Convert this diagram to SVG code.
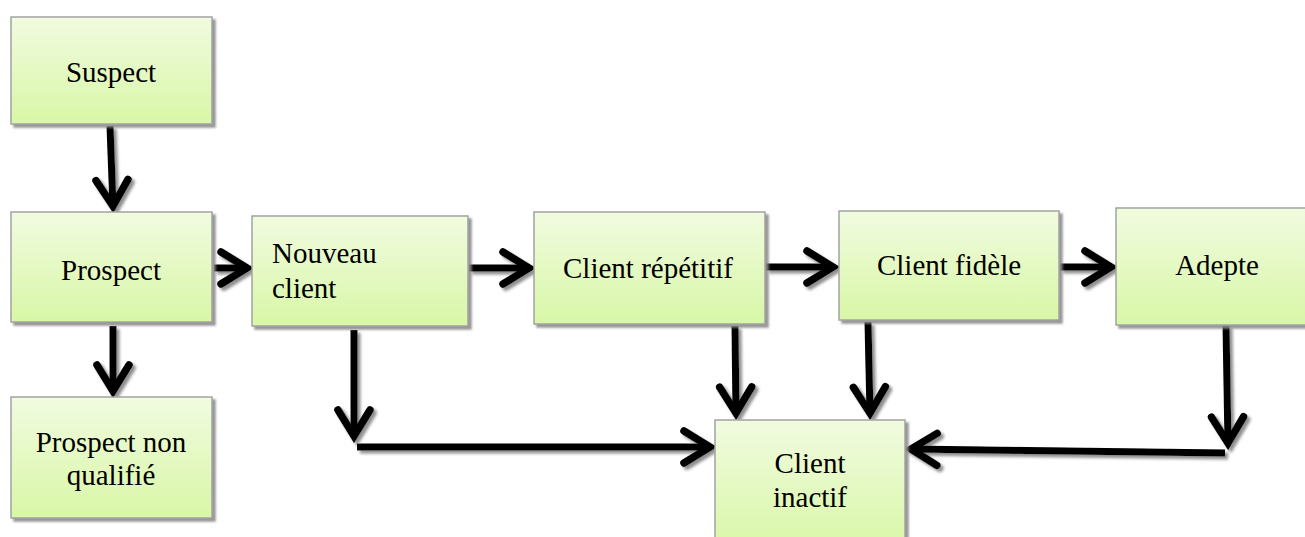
<svg xmlns="http://www.w3.org/2000/svg" width="1305" height="537" viewBox="0 0 1305 537">
  <defs>
    <linearGradient id="boxFill" x1="0" y1="0" x2="0" y2="1">
      <stop offset="0" stop-color="#f1fbe0"/>
      <stop offset="1" stop-color="#d8f7a6"/>
    </linearGradient>
    <filter id="boxShadow" x="-5%" y="-5%" width="115%" height="115%">
      <feDropShadow dx="3" dy="3" stdDeviation="0.8" flood-color="#8a8a8a" flood-opacity="0.9"/>
    </filter>
    <filter id="lineShadow" x="-10%" y="-10%" width="130%" height="130%">
      <feDropShadow dx="3" dy="3" stdDeviation="1.5" flood-color="#7a7a7a" flood-opacity="0.85"/>
    </filter>
    <marker id="chev" markerUnits="userSpaceOnUse" viewBox="-34 -20 40 40" refX="0" refY="0" markerWidth="40" markerHeight="40" orient="auto" overflow="visible">
      <path d="M -27,-16 L -1,0 L -27,16" fill="none" stroke="#000" stroke-width="7.5" stroke-linecap="round" stroke-linejoin="miter"/>
    </marker>
  </defs>
  <style>
    .box { fill: url(#boxFill); stroke: #a3a3a3; stroke-width: 1.5; filter: url(#boxShadow); }
    .conn { fill: none; stroke: #000; stroke-width: 7; marker-end: url(#chev); }
  </style>

  <rect width="1305" height="537" fill="#ffffff"/>

  <!-- connectors -->
  <g id="connectors" filter="url(#lineShadow)">
    <line class="conn" x1="110" y1="126" x2="113" y2="207"/>
    <line class="conn" x1="113" y1="326" x2="113" y2="392"/>
    <line class="conn" x1="214" y1="268" x2="248" y2="268"/>
    <line class="conn" x1="469" y1="268" x2="530" y2="268"/>
    <line class="conn" x1="766" y1="267" x2="834" y2="267"/>
    <line class="conn" x1="1060" y1="267" x2="1112" y2="267"/>
    <line class="conn" x1="354" y1="330" x2="354" y2="437"/>
    <line class="conn" x1="357" y1="447" x2="711" y2="447"/>
    <line class="conn" x1="735" y1="326" x2="736" y2="414"/>
    <line class="conn" x1="868" y1="322" x2="870" y2="414"/>
    <line class="conn" x1="1226" y1="325" x2="1228" y2="444"/>
    <line class="conn" x1="1225" y1="453" x2="910" y2="449"/>
  </g>

  <!-- nodes -->
  <g font-family="'Liberation Serif', 'Times New Roman', Times, serif" font-size="29" fill="#000">
    <g id="suspect">
      <rect class="box" x="11" y="17" width="201" height="107"/>
      <text x="111" y="82" text-anchor="middle">Suspect</text>
    </g>
    <g id="prospect">
      <rect class="box" x="11" y="212" width="201" height="110"/>
      <text x="111" y="280" text-anchor="middle">Prospect</text>
    </g>
    <g id="prospect-non-qualifie">
      <rect class="box" x="11" y="397" width="201" height="121"/>
      <text x="111" y="452" text-anchor="middle">Prospect non</text>
      <text x="111" y="485" text-anchor="middle">qualifié</text>
    </g>
    <g id="nouveau-client">
      <rect class="box" x="252" y="216" width="216" height="110"/>
      <text x="272" y="263">Nouveau</text>
      <text x="272" y="298">client</text>
    </g>
    <g id="client-repetitif">
      <rect class="box" x="534" y="212" width="231" height="112"/>
      <text x="648" y="278" text-anchor="middle">Client répétitif</text>
    </g>
    <g id="client-fidele">
      <rect class="box" x="839" y="211" width="220" height="109"/>
      <text x="949" y="275" text-anchor="middle">Client fidèle</text>
    </g>
    <g id="adepte">
      <rect class="box" x="1116" y="208" width="200" height="117"/>
      <text x="1217" y="275" text-anchor="middle">Adepte</text>
    </g>
    <g id="client-inactif">
      <rect class="box" x="715" y="420" width="190" height="130"/>
      <text x="810" y="473" text-anchor="middle">Client</text>
      <text x="810" y="507" text-anchor="middle">inactif</text>
    </g>
  </g>
</svg>
